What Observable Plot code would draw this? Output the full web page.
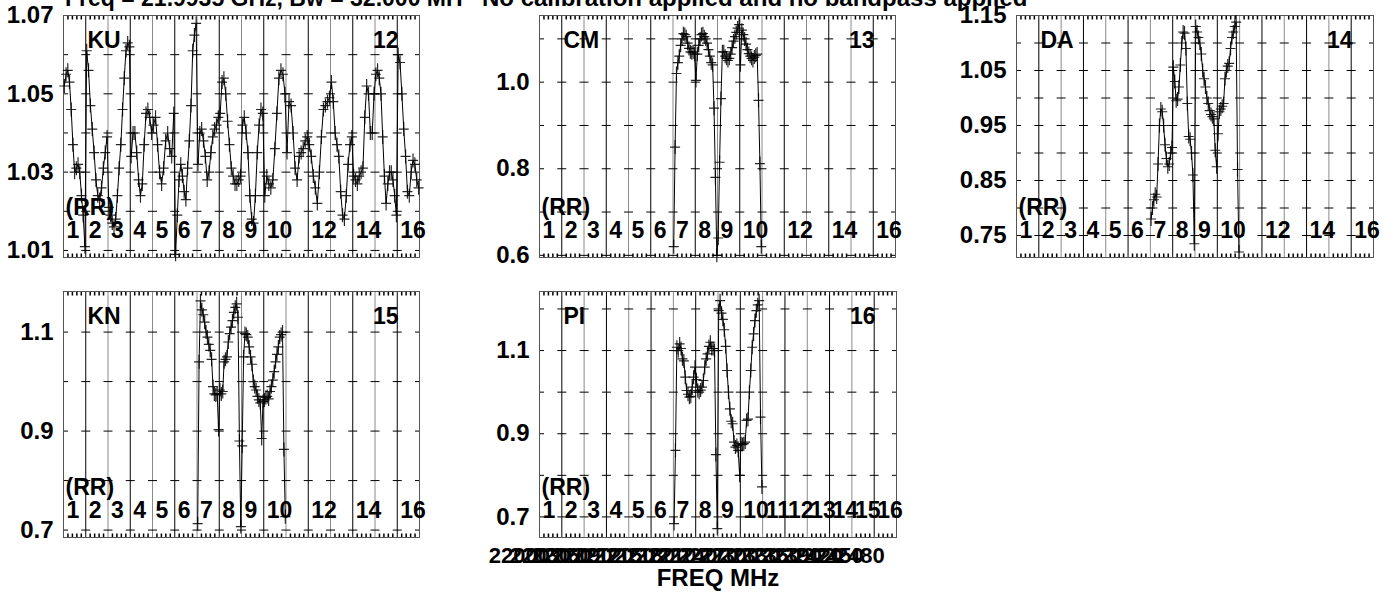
<!DOCTYPE html>
<html><head><meta charset="utf-8">
<script src="https://cdn.jsdelivr.net/npm/d3@7"></script>
<script src="https://cdn.jsdelivr.net/npm/@observablehq/plot@0.6"></script>
<style>
html,body{margin:0;padding:0;background:#fff;}
#chart{position:relative;width:1392px;height:594px;overflow:hidden;font-family:"Liberation Sans",Arial,sans-serif;}
#chart svg{position:absolute;overflow:visible;}
.title{position:absolute;font-weight:bold;line-height:24px;white-space:nowrap;color:#000;}
</style></head><body>
<div id="chart"></div>
<script>
// ---------------- text ----------------
const title1 = "Freq = 21.9935 GHz, Bw = 32.000 MH";
const title2 = "No calibration applied and no bandpass applied";
const polLabel = "(RR)";
const xTitle = "FREQ MHz";
const nIF = 16;
const ifLabelsSparse = [1,2,3,4,5,6,7,8,9,10,12,14,16];
const ifLabelsAll = [1,2,3,4,5,6,7,8,9,10,11,12,13,14,15,16];
const freqTicks = [22000,22030,22060,22090,22120,22150,22180,22210,22240,22270,22300,22330,22360,22390,22420,22450,22480];
const freqStart = 21993.5;   // MHz at start of IF 1
const ifBandwidth = 32;      // MHz per IF

// ---------------- KU (panel 12): all 16 IFs ----------------
const KU = [
 [1.052,1.055,1.056,1.053,1.046,1.037,1.030,1.031,1.032,1.030,1.024,1.019,1.011],
 [1.061,1.056,1.047,1.041,1.035,1.028,1.024,1.023,1.026,1.031,1.035,1.039],
 [1.021,1.019,1.017,1.016,1.018,1.024,1.031,1.037,1.046,1.054,1.061,1.063,1.062],
 [1.034,1.040,1.040,1.035,1.028,1.024,1.027,1.037,1.045,1.046,1.044,1.040],
 [1.042,1.044,1.037,1.030,1.027,1.031,1.038,1.040,1.036,1.034,1.045],
 [1.009,1.019,1.028,1.032,1.029,1.025,1.023,1.031,1.038,1.047,1.061,1.065,1.068],
 [1.032,1.040,1.041,1.038,1.034,1.028,1.030,1.035,1.039,1.041,1.042,1.044],
 [1.045,1.053,1.054,1.050,1.043,1.037,1.031,1.029,1.027,1.027,1.028,1.029],
 [1.042,1.044,1.040,1.035,1.024,1.018,1.017,1.024,1.035,1.042,1.046,1.045],
 [1.024,1.029,1.027,1.026,1.028,1.036,1.045,1.054,1.056,1.055,1.050],
 [1.035,1.048,1.047,1.040,1.031,1.028,1.034,1.035,1.036,1.038,1.039],
 [1.037,1.034,1.029,1.026,1.022,1.030,1.039,1.046,1.047,1.048,1.049],
 [1.053,1.048,1.040,1.037,1.034,1.025,1.019,1.018,1.024,1.032,1.037,1.039],
 [1.029,1.028,1.027,1.029,1.030,1.031,1.044,1.052,1.050,1.040,1.040,1.050],
 [1.055,1.056,1.054,1.050,1.039,1.029,1.022,1.027,1.030,1.030,1.028,1.024,1.019],
 [1.060,1.058,1.050,1.041,1.034,1.025,1.024,1.030,1.033,1.032,1.028,1.026]
];
// ---------------- other antennas: IFs 7-10 ----------------
const CM = [
 [0.62,0.85,1.02,1.045,1.06,1.085,1.10,1.112,1.11,1.105,1.09,1.078,1.07,1.068,1.07,1.065],
 [1.004,1.065,1.085,1.10,1.11,1.112,1.105,1.10,1.09,1.075,1.06,1.045,1.04,0.94,0.78,0.60],
 [0.64,0.815,0.962,1.07,1.07,1.06,1.055,1.05,1.055,1.065,1.08,1.095,1.105,1.115,1.125,1.133],
 [1.04,1.12,1.11,1.10,1.088,1.075,1.066,1.06,1.055,1.05,1.058,1.062,1.065,0.958,0.812,0.62]
];
const DA = [
 [0.78,0.80,0.815,0.825,0.82,0.88,0.95,0.98,0.975,0.95,0.915,0.89,0.875,0.88,0.90,0.91],
 [1.056,1.03,0.995,0.998,1.02,1.06,1.10,1.12,1.118,1.09,0.99,0.93,0.925,0.90,0.86,0.735],
 [1.13,1.12,1.11,1.10,1.08,1.05,1.035,1.02,1.0,0.99,0.977,0.97,0.966,0.962,0.905,0.875],
 [0.935,0.975,0.98,0.985,0.99,1.035,1.05,1.058,1.063,1.09,1.11,1.12,1.13,1.138,0.87,0.72]
];
const KN = [
 [0.713,1.04,1.163,1.145,1.135,1.12,1.10,1.09,1.075,1.063,1.045,0.99,0.975,0.973,0.975,0.903],
 [0.983,0.975,0.98,1.04,1.045,1.05,1.08,1.097,1.11,1.123,1.14,1.15,1.157,1.13,0.88,0.707],
 [0.87,1.05,1.097,1.095,1.09,1.07,1.05,1.035,1.0,0.99,0.983,0.97,0.963,0.957,0.885,0.96],
 [0.963,0.968,0.97,0.965,0.98,0.99,1.003,1.02,1.04,1.055,1.07,1.09,1.095,1.10,0.863,0.727]
];
const PI = [
 [0.684,0.86,1.108,1.10,1.116,1.105,1.08,1.075,1.036,1.004,0.995,0.988,0.99,1.012,1.036,1.06],
 [1.03,1.004,1.0,1.005,1.012,1.028,1.06,1.08,1.092,1.11,1.12,1.105,1.105,1.10,0.85,0.672],
 [1.196,1.22,1.19,1.175,1.15,1.11,1.052,1.0,0.96,0.93,0.924,0.88,0.868,0.872,0.86,0.80],
 [0.876,0.874,0.876,0.88,0.932,0.935,1.0,1.052,1.108,1.14,1.172,1.196,1.21,1.22,0.94,0.772]
];

// ---------------- axis values ----------------
const KU_yLabels = [1.01,1.03,1.05,1.07];
const KU_grid = [1.01,1.02,1.03,1.04,1.05,1.06,1.07];
const CM_yLabels = [0.6,0.8,1.0];
const CM_grid = [0.6,0.7,0.8,0.9,1.0,1.1];
const DA_yLabels = [0.75,0.85,0.95,1.05,1.15];
const DA_grid = [0.75,0.80,0.85,0.90,0.95,1.00,1.05,1.10,1.15];
const KN_yLabels = [0.7,0.9,1.1];
const KN_grid = [0.7,0.8,0.9,1.0,1.1];
const PI_yLabels = [0.7,0.9,1.1];
const PI_grid = [0.7,0.8,0.9,1.0,1.1,1.2];

const panels = [
 {name:"KU", num:"12", ifs:KU, firstIF:1, yDomain:[1.0082,1.07], yLabels:KU_yLabels, grid:KU_grid, fmt:".2f", ifLabels:ifLabelsSparse},
 {name:"CM", num:"13", ifs:CM, firstIF:7, yDomain:[0.595,1.154], yLabels:CM_yLabels, grid:CM_grid, fmt:".1f", ifLabels:ifLabelsSparse},
 {name:"DA", num:"14", ifs:DA, firstIF:7, yDomain:[0.71,1.15], yLabels:DA_yLabels, grid:DA_grid, fmt:".2f", ifLabels:ifLabelsSparse},
 {name:"KN", num:"15", ifs:KN, firstIF:7, yDomain:[0.685,1.182], yLabels:KN_yLabels, grid:KN_grid, fmt:".1f", ifLabels:ifLabelsSparse},
 {name:"PI", num:"16", ifs:PI, firstIF:7, yDomain:[0.6505,1.242], yLabels:PI_yLabels, grid:PI_grid, fmt:".1f", ifLabels:ifLabelsAll, xAxis:true}
];

// ---------------- layout (frame positions on the page) ----------------
const layout = [
 {left:63,  top:15,  w:356, h:242},
 {left:539, top:15,  w:356, h:242},
 {left:1016,top:15,  w:357, h:242},
 {left:63,  top:291, w:356, h:246},
 {left:539, top:291, w:357, h:246}
];
const M = {left:63, top:15, right:12, bottom:12, bottomAxis:57};
const FONT = "'Liberation Sans', Arial, sans-serif";

// custom marker shapes (pixel sized)
const plusSym = {draw(ctx, size){ const r = Math.sqrt(size/Math.PI); ctx.moveTo(-r,0); ctx.lineTo(r,0); ctx.moveTo(0,-r*1.4); ctx.lineTo(0,r*1.4); }};
const hDash = {draw(ctx, size){ const r = Math.sqrt(size/Math.PI); ctx.moveTo(-r,0); ctx.lineTo(r,0); }};
const vTick = {draw(ctx, size){ const r = Math.sqrt(size/Math.PI); ctx.moveTo(0,-r); ctx.lineTo(0,r); }};

const dividers = d3.range(1, nIF);
const minorTicks = d3.range(0, nIF*5).filter(k => k % 5 !== 0).map(k => k/5);

function spectrum(ifs, firstIF){
  const pts = [];
  ifs.forEach((vals, k) => {
    const n = vals.length;
    vals.forEach((v, j) => pts.push({x: firstIF - 1 + k + (j + 0.5)/n, y: v}));
  });
  return pts;
}

const chart = document.getElementById("chart");

panels.forEach((p, i) => {
  const L = layout[i];
  const mb = p.xAxis ? M.bottomAxis : M.bottom;
  const pts = spectrum(p.ifs, p.firstIF);
  const gridPts = [];
  p.grid.forEach(g => d3.range(0, nIF + 1).forEach(d => gridPts.push({x: d, y: g})));
  const marks = [
    Plot.ruleX(dividers.filter(d => d % 2 === 1), {stroke:"#000", strokeWidth:1}),
    Plot.ruleX(dividers.filter(d => d % 2 === 0), {stroke:"#8a8a8a", strokeWidth:1}),
    Plot.dot(gridPts, {x:"x", y:"y", symbol:hDash, r:4.5, stroke:"#000", fill:"none", strokeWidth:1, clip:true}),
    Plot.dot(minorTicks, {x: d => d, frameAnchor:"bottom", symbol:vTick, r:4, stroke:"#000", fill:"none", clip:true}),
    Plot.dot(minorTicks, {x: d => d, frameAnchor:"top", symbol:vTick, r:4, stroke:"#000", fill:"none", clip:true}),
    Plot.frame({stroke:"#555"}),
    Plot.axisY({ticks:p.yLabels, label:null, tickSize:0, tickPadding:10, tickFormat:d3.format(p.fmt), fontSize:24, fontWeight:"bold", fill:"#000"}),
    Plot.line(pts, {x:"x", y:"y", stroke:"#000", strokeWidth:1}),
    Plot.dot(pts, {x:"x", y:"y", symbol:plusSym, r:5, stroke:"#000", strokeOpacity:0.85, fill:"none", strokeWidth:1.2}),
    Plot.text([p.name], {frameAnchor:"top-left", textAnchor:"start", lineAnchor:"middle", dx:24, dy:25, fontSize:23, fontWeight:"bold", fill:"#000"}),
    Plot.text([p.num], {frameAnchor:"top-right", textAnchor:"end", lineAnchor:"middle", dx:-21, dy:25, fontSize:23, fontWeight:"bold", fill:"#000"}),
    Plot.text([polLabel], {frameAnchor:"bottom-left", textAnchor:"start", lineAnchor:"middle", dx:2, dy:-50, fontSize:23, fontWeight:"bold", fill:"#000"}),
    Plot.text(p.ifLabels, {x: d => d - 1, text: d => String(d), frameAnchor:"bottom", textAnchor:"start", lineAnchor:"middle", dx:3, dy:-27, fontSize:23, fontWeight:"bold", fill:"#000"})
  ];
  if (p.xAxis) {
    marks.push(
      Plot.text(freqTicks, {x: f => (f - freqStart)/ifBandwidth, text: f => String(f), frameAnchor:"bottom", textAnchor:"end", lineAnchor:"middle", dx:6, dy:18, fontSize:22, fontWeight:"bold", fill:"#000"}),
      Plot.text([xTitle], {frameAnchor:"bottom", textAnchor:"middle", lineAnchor:"middle", dy:41, fontSize:24, fontWeight:"bold", fill:"#000"})
    );
  }
  const svg = Plot.plot({
    width: M.left + L.w + M.right,
    height: M.top + L.h + mb,
    marginLeft: M.left, marginTop: M.top, marginRight: M.right, marginBottom: mb,
    x: {domain:[0, nIF], axis:null},
    y: {domain:p.yDomain, axis:null},
    style: {fontFamily: FONT, background:"transparent", overflow:"visible"},
    marks
  });
  svg.style.left = (L.left - M.left) + "px";
  svg.style.top = (L.top - M.top) + "px";
  chart.appendChild(svg);
});

const t1 = document.createElement("div");
t1.className = "title"; t1.textContent = title1;
t1.style.left = "65px"; t1.style.top = "-14px"; t1.style.fontSize = "23px";
chart.appendChild(t1);
const t2 = document.createElement("div");
t2.className = "title"; t2.textContent = title2;
t2.style.left = "482px"; t2.style.top = "-14px"; t2.style.fontSize = "24px";
chart.appendChild(t2);
</script>
</body></html>
